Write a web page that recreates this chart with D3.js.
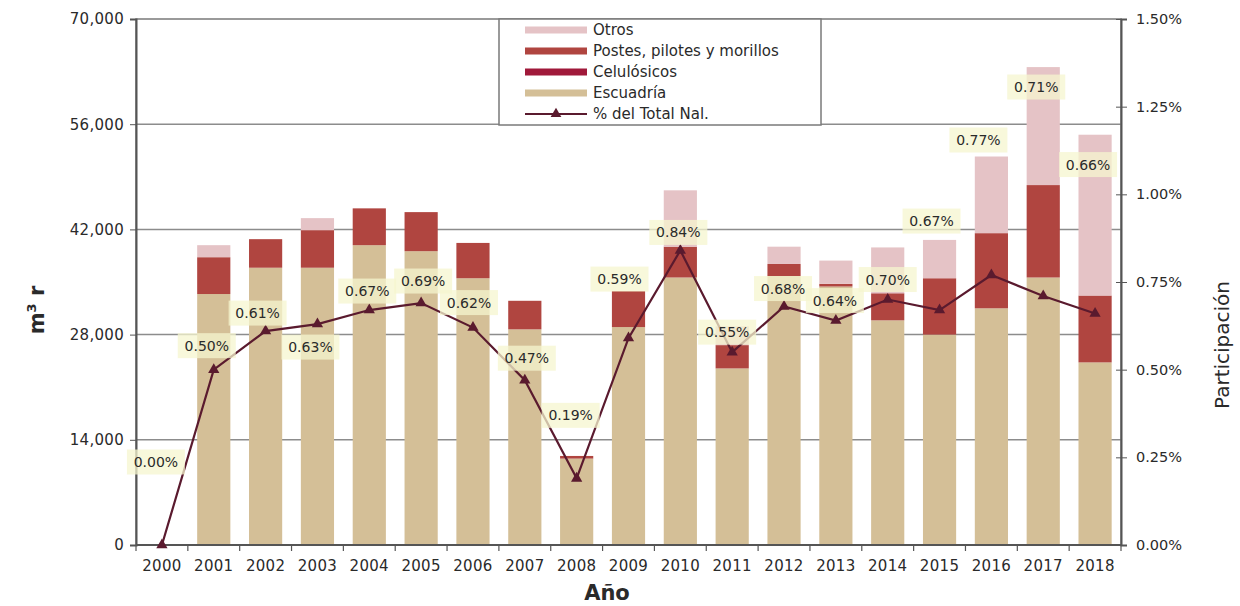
<!DOCTYPE html>
<html>
<head>
<meta charset="utf-8">
<script src="https://cdn.jsdelivr.net/npm/d3@7"></script>
<style>
  html, body { margin: 0; padding: 0; background: #fff; }
  svg { display: block; }
  text { font-family: "DejaVu Sans", sans-serif; fill: #2a2a2a; }
</style>
</head>
<body>
<svg id="chart" width="1240" height="606"></svg>
<script>
// ---- data ----
const years = ["2000","2001","2002","2003","2004","2005","2006","2007","2008","2009",
               "2010","2011","2012","2013","2014","2015","2016","2017","2018"];
const escuadria   = [0, 33400, 36900, 36900, 39900, 39100, 35500, 28700, 11500, 29000,
                     35600, 23500, 35800, 34400, 29900, 28000, 31500, 35600, 24300];
const celulosicos = [0, 0, 0, 0, 0, 0, 0, 0, 0, 0, 0, 0, 0, 0, 0, 0, 0, 0, 0];
const postes      = [0, 4900, 3800, 5000, 4900, 5200, 4700, 3800, 350, 4800,
                     4100, 3100, 1600, 350, 3600, 7500, 10000, 12300, 8900];
const otros       = [0, 1600, 0, 1600, 0, 0, 0, 0, 0, 0,
                     7500, 2500, 2300, 3100, 6100, 5100, 10200, 15700, 21400];
const pctTotal    = [0.00, 0.50, 0.61, 0.63, 0.67, 0.69, 0.62, 0.47, 0.19, 0.59,
                     0.84, 0.55, 0.68, 0.64, 0.70, 0.67, 0.77, 0.71, 0.66];
const leftTicks  = [0, 14000, 28000, 42000, 56000, 70000];
const rightTicks = [0, 0.25, 0.5, 0.75, 1.0, 1.25, 1.5];

// ---- layout (label placement offsets relative to each point, in px) ----
const labelDx = [-6, -7, -8, -7, -2, 2, -4, 2, -6, -9, -2, -5, -1, -1, 0, -8, -13, -7, -7];
const labelDy = [-83, -24, -18, 23, -19, -22, -25, -22, -63, -59, -18, -20, -18, -20, -20, -89, -135, -209, -149];

const series = [
  {key: "escuadria",   name: "Escuadría",                  color: "#d4bf97", values: escuadria},
  {key: "celulosicos", name: "Celulósicos",                color: "#a0193a", values: celulosicos},
  {key: "postes",      name: "Postes, pilotes y morillos", color: "#b04540", values: postes},
  {key: "otros",       name: "Otros",                      color: "#e5c3c6", values: otros}
];
const lineColor = "#5a1a2e";

const M = {left: 136, right: 1121, top: 19, bottom: 545};
const svg = d3.select("#chart");

const x = d3.scaleBand().domain(years).range([M.left, M.right]).paddingInner(0.36).paddingOuter(0.18);
const y = d3.scaleLinear().domain([0, 70000]).range([M.bottom, M.top]);
const y2 = d3.scaleLinear().domain([0, 1.5]).range([M.bottom, M.top]);

// gridlines
svg.append("g").selectAll("line").data(leftTicks.slice(1, -1)).join("line")
  .attr("x1", M.left).attr("x2", M.right)
  .attr("y1", d => y(d)).attr("y2", d => y(d))
  .attr("stroke", "#8c8c8c").attr("stroke-width", 1.5);

// stacked bars
const rows = years.map((yr, i) => {
  const r = {year: yr};
  series.forEach(s => r[s.key] = s.values[i]);
  return r;
});
const stack = d3.stack().keys(series.map(s => s.key))(rows);
svg.append("g").selectAll("g").data(stack).join("g")
  .attr("fill", (d, i) => series[i].color)
  .selectAll("rect").data(d => d).join("rect")
  .attr("x", d => x(d.data.year))
  .attr("width", x.bandwidth())
  .attr("y", d => y(d[1]))
  .attr("height", d => Math.max(0, y(d[0]) - y(d[1])));

// frame
svg.append("rect").attr("x", M.left).attr("y", M.top)
  .attr("width", M.right - M.left).attr("height", M.bottom - M.top)
  .attr("fill", "none").attr("stroke", "#7a7a7a").attr("stroke-width", 1.5);

// left axis
const yAxis = d3.axisLeft(y).tickValues(leftTicks).tickSize(6).tickPadding(6)
  .tickFormat(d3.format(","));
const gy = svg.append("g").attr("transform", `translate(${M.left},0)`).call(yAxis);
gy.select(".domain").attr("stroke", "#555").attr("stroke-width", 2);
gy.selectAll(".tick line").attr("stroke", "#555");
gy.selectAll(".tick text").attr("font-size", 15).attr("font-family", "DejaVu Sans").attr("fill", "#2a2a2a")
  .attr("letter-spacing", "0.3px");

// right axis
const y2Axis = d3.axisRight(y2).tickValues(rightTicks).tickSize(6).tickPadding(9)
  .tickFormat(d => d3.format(".2f")(d) + "%");
const gy2 = svg.append("g").attr("transform", `translate(${M.right},0)`).call(y2Axis);
gy2.select(".domain").attr("stroke", "#555").attr("stroke-width", 2);
gy2.selectAll(".tick line").attr("stroke", "#555").attr("x1", -5);
gy2.selectAll(".tick text").attr("font-size", 14.5).attr("font-family", "DejaVu Sans").attr("fill", "#2a2a2a");

// bottom axis (ticks at category boundaries)
const gx = svg.append("g").attr("transform", `translate(0,${M.bottom})`);
gx.append("line").attr("x1", M.left).attr("x2", M.right).attr("stroke", "#555").attr("stroke-width", 2);
const bounds = d3.range(years.length + 1).map(i => M.left + i * x.step());
gx.selectAll("line.tk").data(bounds).join("line").attr("class", "tk")
  .attr("x1", d => d).attr("x2", d => d).attr("y1", 0).attr("y2", 6)
  .attr("stroke", "#555").attr("stroke-width", 1.2);
gx.selectAll("text").data(years).join("text")
  .attr("x", d => x(d) + x.bandwidth() / 2).attr("y", 26)
  .attr("text-anchor", "middle").attr("font-size", 15).attr("letter-spacing", "0.3px")
  .text(d => d);

// line series
const cx = i => x(years[i]) + x.bandwidth() / 2;
const line = d3.line().x((d, i) => cx(i)).y(d => y2(d));
svg.append("path").datum(pctTotal).attr("d", line)
  .attr("fill", "none").attr("stroke", lineColor).attr("stroke-width", 2.2);
svg.append("g").selectAll("path").data(pctTotal).join("path")
  .attr("d", d3.symbol().type(d3.symbolTriangle).size(55))
  .attr("transform", (d, i) => `translate(${cx(i)},${y2(d)})`)
  .attr("fill", lineColor);

// value labels
const lg = svg.append("g").selectAll("g").data(pctTotal).join("g")
  .attr("transform", (d, i) => `translate(${cx(i) + labelDx[i]},${y2(d) + labelDy[i]})`);
lg.append("rect").attr("x", -29).attr("y", -12.5).attr("width", 58).attr("height", 25)
  .attr("fill", "#f6f5cf").attr("fill-opacity", 0.75);
lg.append("text").attr("text-anchor", "middle").attr("dy", "0.36em")
  .attr("font-size", 14).attr("fill", "#333")
  .text(d => d3.format(".2f")(d) + "%");

// legend
const leg = svg.append("g");
leg.append("rect").attr("x", 499).attr("y", 19).attr("width", 322).attr("height", 106)
  .attr("fill", "#fff").attr("stroke", "#7a7a7a").attr("stroke-width", 1.5);
const legItems = [series[3], series[2], series[1], series[0]];
legItems.forEach((s, i) => {
  const ly = 30 + i * 21;
  leg.append("rect").attr("x", 525).attr("y", ly - 3.5).attr("width", 62).attr("height", 7).attr("fill", s.color);
  leg.append("text").attr("x", 593).attr("y", ly).attr("dy", "0.35em").attr("font-size", 15).text(s.name);
});
{
  const ly = 30 + 4 * 21;
  leg.append("line").attr("x1", 525).attr("x2", 587).attr("y1", ly).attr("y2", ly)
    .attr("stroke", lineColor).attr("stroke-width", 2);
  leg.append("path").attr("d", d3.symbol().type(d3.symbolTriangle).size(50))
    .attr("transform", `translate(556,${ly})`).attr("fill", lineColor);
  leg.append("text").attr("x", 593).attr("y", ly).attr("dy", "0.35em").attr("font-size", 15).text("% del Total Nal.");
}

// axis titles
const t1 = svg.append("text").attr("transform", "translate(44,310) rotate(-90)")
  .attr("text-anchor", "middle").attr("font-size", 21).attr("font-weight", "bold");
t1.append("tspan").text("m");
t1.append("tspan").attr("font-size", 13).attr("dy", -8).text("3");
t1.append("tspan").attr("dy", 8).text(" r");

svg.append("text").attr("x", 607).attr("y", 600).attr("text-anchor", "middle")
  .attr("font-size", 21).attr("font-weight", "bold").text("Año");

svg.append("text").attr("transform", "translate(1229,345) rotate(-90)")
  .attr("text-anchor", "middle").attr("font-size", 20).text("Participación");
</script>
</body>
</html>
